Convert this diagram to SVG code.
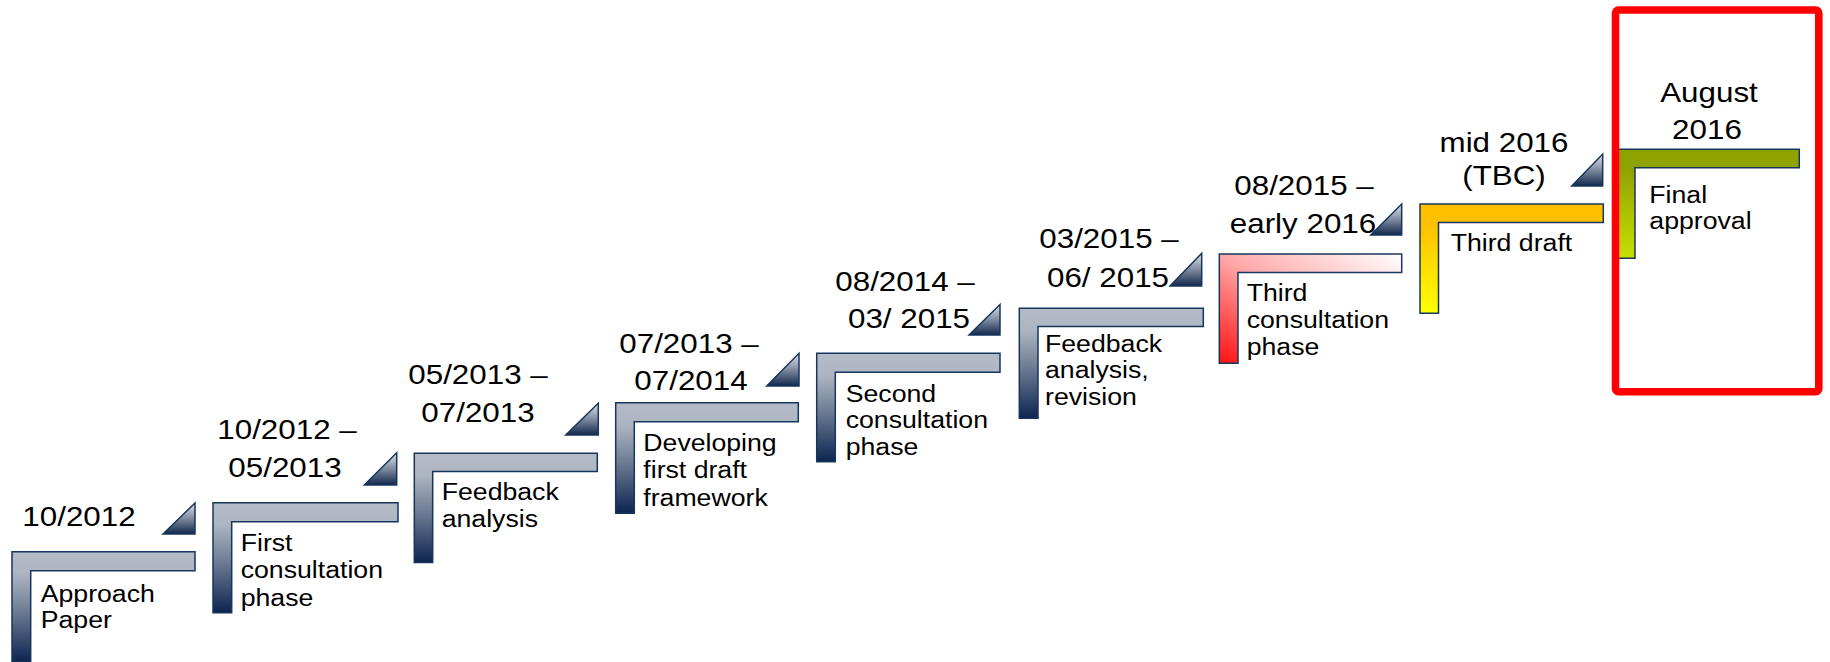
<svg xmlns="http://www.w3.org/2000/svg" width="1830" height="662" viewBox="0 0 1830 662">
<defs>
<linearGradient id="gNavy" x1="0" y1="0" x2="0" y2="1">
<stop offset="0" stop-color="#b4bcc8"/>
<stop offset="0.2" stop-color="#adb5c2"/>
<stop offset="0.55" stop-color="#6b7a92"/>
<stop offset="1" stop-color="#0c2450"/>
</linearGradient>
<linearGradient id="gTri" x1="0" y1="0" x2="0" y2="1">
<stop offset="0" stop-color="#dfe2e8"/>
<stop offset="0.45" stop-color="#8a94a8"/>
<stop offset="1" stop-color="#11284c"/>
</linearGradient>
<linearGradient id="gPink" x1="0" y1="1" x2="1" y2="0">
<stop offset="0" stop-color="#ff1010"/>
<stop offset="0.5" stop-color="#ffa8a8"/>
<stop offset="1" stop-color="#ffffff"/>
</linearGradient>
<linearGradient id="gGold" x1="0" y1="0" x2="0" y2="1">
<stop offset="0.18" stop-color="#ffc000"/>
<stop offset="1" stop-color="#ffff00"/>
</linearGradient>
<linearGradient id="gOlive" x1="0" y1="0" x2="0" y2="1">
<stop offset="0.18" stop-color="#8fa300"/>
<stop offset="1" stop-color="#c6e000"/>
</linearGradient>
<style>
.step{stroke:#17365d;stroke-width:1.5;stroke-linejoin:miter}
.navy{fill:url(#gNavy)}
.tri{fill:url(#gTri);stroke:#17365d;stroke-width:1.5}
.date{font-family:"Liberation Sans",Arial,sans-serif;font-size:28px;fill:#000;text-anchor:middle}
.lbl{font-family:"Liberation Sans",Arial,sans-serif;font-size:23px;fill:#000}
</style>
</defs>
<rect width="1830" height="662" fill="#fff"/>

<g id="step1">
<path class="step navy" d="M12,551.7 H195 V570.7 H30.7 V662 H12 Z"/>
<path class="tri" d="M163,534 L195,503 L195,534 Z"/>
<g transform="translate(79,0) scale(1.12 1)"><text class="date" x="0" y="526">10/2012</text></g>
<g transform="translate(40.7,0) scale(1.16 1)"><text class="lbl" x="0" y="601.7">Approach<tspan x="0" y="628.3">Paper</tspan></text></g>
</g>

<g id="step2">
<path class="step navy" d="M213,502.7 H398 V521.7 H231.7 V612.7 H213 Z"/>
<path class="tri" d="M364.3,485 L396.7,452.7 L396.7,485 Z"/>
<g transform="translate(287,0) scale(1.12 1)"><text class="date" x="0" y="439.3">10/2012 –</text></g>
<g transform="translate(285,0) scale(1.12 1)"><text class="date" x="0" y="477.3">05/2013</text></g>
<g transform="translate(240.7,0) scale(1.16 1)"><text class="lbl" x="0" y="550.7">First<tspan x="0" y="578.5">consultation</tspan><tspan x="0" y="606">phase</tspan></text></g>
</g>

<g id="step3">
<path class="step navy" d="M414.3,453.3 H597.3 V471.5 H432.7 V562.6 H414.3 Z"/>
<path class="tri" d="M565.7,435 L598.3,403.3 L598.3,435 Z"/>
<g transform="translate(478,0) scale(1.12 1)"><text class="date" x="0" y="384">05/2013 –</text></g>
<g transform="translate(478,0) scale(1.12 1)"><text class="date" x="0" y="421.7">07/2013</text></g>
<g transform="translate(441.7,0) scale(1.16 1)"><text class="lbl" x="0" y="500">Feedback<tspan x="0" y="526.7">analysis</tspan></text></g>
</g>

<g id="step4">
<path class="step navy" d="M615.7,402.7 H798.3 V421.7 H634.3 V513.3 H615.7 Z"/>
<path class="tri" d="M766.7,386 L799,353.3 L799,386 Z"/>
<g transform="translate(689,0) scale(1.12 1)"><text class="date" x="0" y="353.3">07/2013 –</text></g>
<g transform="translate(691,0) scale(1.12 1)"><text class="date" x="0" y="390">07/2014</text></g>
<g transform="translate(643.3,0) scale(1.16 1)"><text class="lbl" x="0" y="450.7">Developing<tspan x="0" y="478.3">first draft</tspan><tspan x="0" y="505.7">framework</tspan></text></g>
</g>

<g id="step5">
<path class="step navy" d="M816.7,353.3 H1000 V372.3 H835.3 V461.7 H816.7 Z"/>
<path class="tri" d="M969,335 L1000,304.5 L1000,335 Z"/>
<g transform="translate(905,0) scale(1.12 1)"><text class="date" x="0" y="290.7">08/2014 –</text></g>
<g transform="translate(909,0) scale(1.12 1)"><text class="date" x="0" y="328.3">03/ 2015</text></g>
<g transform="translate(845.7,0) scale(1.16 1)"><text class="lbl" x="0" y="401.7">Second<tspan x="0" y="428.3">consultation</tspan><tspan x="0" y="455">phase</tspan></text></g>
</g>

<g id="step6">
<path class="step navy" d="M1019.3,308.3 H1203.3 V326.5 H1038 V418.3 H1019.3 Z"/>
<path class="tri" d="M1170,286 L1201.7,253.3 L1201.7,286 Z"/>
<g transform="translate(1109,0) scale(1.12 1)"><text class="date" x="0" y="248.3">03/2015 –</text></g>
<g transform="translate(1108,0) scale(1.12 1)"><text class="date" x="0" y="286.7">06/ 2015</text></g>
<g transform="translate(1045,0) scale(1.16 1)"><text class="lbl" x="0" y="351.7">Feedback<tspan x="0" y="378.3">analysis,</tspan><tspan x="0" y="405">revision</tspan></text></g>
</g>

<g id="step7">
<path class="step" fill="url(#gPink)" d="M1219.3,254 H1401.7 V272.5 H1238 V363.3 H1219.3 Z"/>
<path class="tri" d="M1370.7,235 L1401.7,204 L1401.7,235 Z"/>
<g transform="translate(1304,0) scale(1.12 1)"><text class="date" x="0" y="195">08/2015 –</text></g>
<g transform="translate(1303,0) scale(1.12 1)"><text class="date" x="0" y="232.7">early 2016</text></g>
<g transform="translate(1246.7,0) scale(1.16 1)"><text class="lbl" x="0" y="300.7">Third<tspan x="0" y="328.5">consultation</tspan><tspan x="0" y="355.5">phase</tspan></text></g>
</g>

<g id="step8">
<path class="step" fill="url(#gGold)" d="M1420,204 H1603.3 V222.5 H1438.5 V313.3 H1420 Z"/>
<path class="tri" d="M1571.7,186 L1602.7,154 L1602.7,186 Z"/>
<g transform="translate(1504,0) scale(1.12 1)"><text class="date" x="0" y="151.7">mid 2016</text></g>
<g transform="translate(1504,0) scale(1.12 1)"><text class="date" x="0" y="185.5">(TBC)</text></g>
<g transform="translate(1450.7,0) scale(1.16 1)"><text class="lbl" x="0" y="250.7">Third draft</text></g>
</g>

<g id="step9">
<path class="step" fill="url(#gOlive)" d="M1616,149.3 H1799.3 V167.7 H1635 V258.3 H1616 Z"/>
<g transform="translate(1709,0) scale(1.12 1)"><text class="date" x="0" y="101.7">August</text></g>
<g transform="translate(1707,0) scale(1.12 1)"><text class="date" x="0" y="139.5">2016</text></g>
<g transform="translate(1649.3,0) scale(1.16 1)"><text class="lbl" x="0" y="202.7">Final<tspan x="0" y="229.3">approval</tspan></text></g>
</g>

<g id="highlight">
<rect x="1615.5" y="10" width="203.3" height="381.7" rx="3" fill="none" stroke="#ff0000" stroke-width="7.6"/>
</g>
</svg>
